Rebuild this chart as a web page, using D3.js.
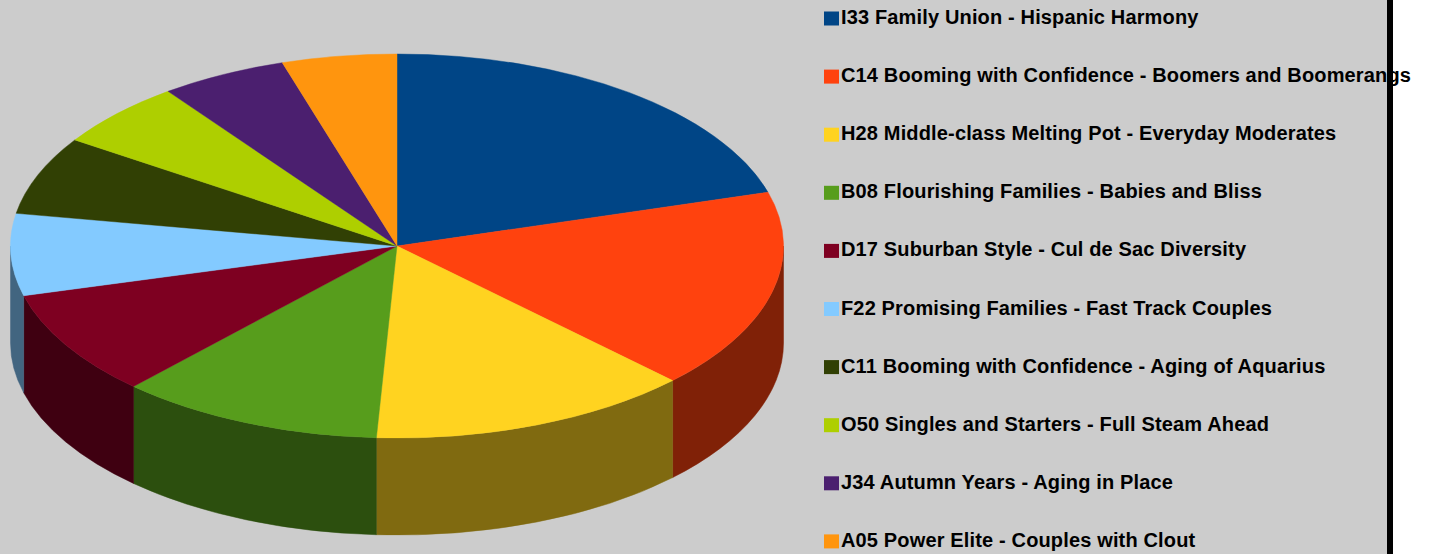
<!DOCTYPE html>
<html><head><meta charset="utf-8">
<script src="https://cdn.jsdelivr.net/npm/d3@7/dist/d3.min.js"></script>
<style>html,body{margin:0;padding:0;background:#fff;}svg{display:block;}</style>
</head><body>
<svg id="chart" width="1429" height="554"></svg>
<script>
const categories = [
  "I33 Family Union - Hispanic Harmony",
  "C14 Booming with Confidence - Boomers and Boomerangs",
  "H28 Middle-class Melting Pot - Everyday Moderates",
  "B08 Flourishing Families - Babies and Bliss",
  "D17 Suburban Style - Cul de Sac Diversity",
  "F22 Promising Families - Fast Track Couples",
  "C11 Booming with Confidence - Aging of Aquarius",
  "O50 Singles and Starters - Full Steam Ahead",
  "J34 Autumn Years - Aging in Place",
  "A05 Power Elite - Couples with Clout"
];
const values = [20.5, 16.9, 13.5, 11.1, 8.9, 6.9, 6.6, 5.6, 5.3, 4.8];
const colors = ["#004586","#ff420e","#ffd320","#579d1c","#7e0021","#83caff","#314004","#aecf00","#4b1f6f","#ff950e"];

const W = 1429, H = 554;
const svg = d3.select("#chart");
// background
svg.append("rect").attr("x",0).attr("y",0).attr("width",1387).attr("height",H).attr("fill","#cccccc");
svg.append("rect").attr("x",1387).attr("y",0).attr("width",6).attr("height",H).attr("fill","#000");

const cx = 397, cy = 246, rx = 386.5, ry = 192, depth = 97;
const pie = d3.pie().sort(null).value(d => d)(values);

const pt = (a, dy=0) => [cx + rx*Math.sin(a), cy - ry*Math.cos(a) + dy];

// side walls (front half only: angles between PI/2 and 3PI/2)
const sides = svg.append("g");
pie.forEach((s,i) => {
  const a0 = Math.max(s.startAngle, Math.PI/2), a1 = Math.min(s.endAngle, 3*Math.PI/2);
  if (a1 <= a0) return;
  const [x0,y0] = pt(a0), [x1,y1] = pt(a1);
  const d = `M${x0},${y0} A${rx},${ry} 0 0 1 ${x1},${y1} L${x1},${y1+depth} A${rx},${ry} 0 0 0 ${x0},${y0+depth} Z`;
  const c = d3.rgb(colors[i]);
  const dark = d3.rgb(c.r*0.5, c.g*0.5, c.b*0.5).toString();
  sides.append("path").attr("d", d).attr("fill", dark).attr("stroke", dark).attr("stroke-width",0.5);
});

// top faces via d3.arc scaled into an ellipse
const arc = d3.arc().innerRadius(0).outerRadius(rx);
svg.append("g").attr("transform", `translate(${cx},${cy}) scale(1,${ry/rx})`)
  .selectAll("path").data(pie).join("path")
  .attr("d", arc).attr("fill", (d,i) => colors[i])
  .attr("stroke", (d,i) => colors[i]).attr("stroke-width",0.6);

// legend
const legend = svg.append("g");
const y0 = 24, step = 58.1;
categories.forEach((c,i) => {
  const y = y0 + i*step;
  legend.append("rect").attr("x",824).attr("y",y-12.5).attr("width",15).attr("height",14).attr("fill",colors[i]);
  legend.append("text").attr("x",841).attr("y",y)
    .attr("font-family","'Liberation Sans', Arial, sans-serif").attr("font-weight","bold")
    .attr("font-size","20px").attr("letter-spacing","0.15px").attr("fill","#000").text(c);
});
</script>
</body></html>
